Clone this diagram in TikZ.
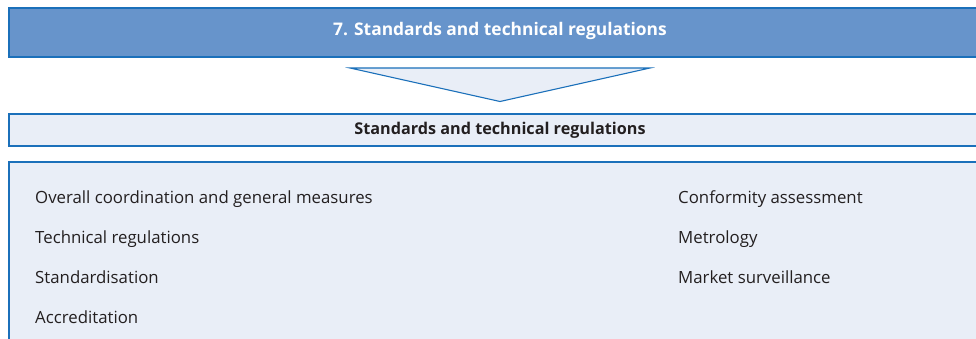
\documentclass[tikz,border=0pt]{standalone}
\usepackage{fontspec}
\setmainfont{Open Sans}
\definecolor{bordblue}{HTML}{1B70BA}
\definecolor{topfill}{HTML}{6794CB}
\definecolor{lightfill}{HTML}{E9EEF7}
\definecolor{txt}{HTML}{231F20}
\tikzset{
  box/.style={draw=bordblue, line width=1.4pt},
  item/.style={anchor=base west, text=txt, font=\fontsize{16.8}{20}\selectfont, inner sep=0pt},
}
\begin{document}
\begin{tikzpicture}[x=1pt,y=-1pt]
\useasboundingbox (0,0) rectangle (976,339);
\clip (0,0) rectangle (976,339);
\draw[box, fill=topfill] (9,8) rectangle (990,57);
\node[anchor=base, inner sep=0pt] (t1) at (500,36) {\color{white}\fontsize{17.4}{20}\selectfont\bfseries 7. Standards and technical regulations};
\draw[box, line width=1.1pt, fill=lightfill, line join=miter] (350,68) -- (650,68) -- (500,101.5) -- cycle;
\draw[box, fill=lightfill] (9,114) rectangle (990,146);
\node[anchor=base, inner sep=0pt] (t2) at (500,135) {\color{txt}\fontsize{16.2}{19}\selectfont\bfseries Standards and technical regulations};
\draw[box, fill=lightfill] (9,162) rectangle (990,360);
\node[item] (a1) at (35,203) {Overall coordination and general measures};
\node[item] (a2) at (35,243) {Technical regulations};
\node[item] (a3) at (35,283) {Standardisation};
\node[item] (a4) at (35,323) {Accreditation};
\node[item] (b1) at (678,203) {Conformity assessment};
\node[item] (b2) at (678,243) {Metrology};
\node[item] (b3) at (678,283) {Market surveillance};
\end{tikzpicture}
\end{document}
